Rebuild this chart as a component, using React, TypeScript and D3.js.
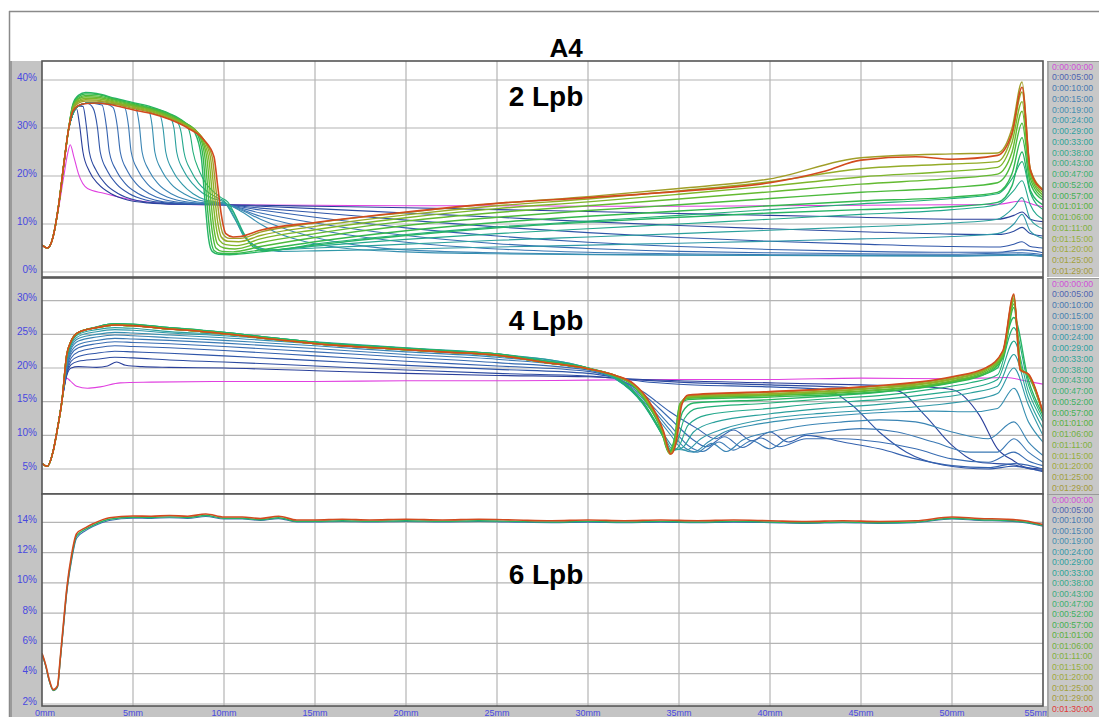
import React from "react";
import * as d3 from "d3";

type Pt = [number, number];

// ---------- legend / series meta ----------
const TIMES = ["0:00:00:00","0:00:05:00","0:00:10:00","0:00:15:00","0:00:19:00","0:00:24:00","0:00:29:00","0:00:33:00","0:00:38:00","0:00:43:00","0:00:47:00","0:00:52:00","0:00:57:00","0:01:01:00","0:01:06:00","0:01:11:00","0:01:15:00","0:01:20:00","0:01:25:00","0:01:29:00","0:01:30:00"];
const LINE_COLORS = ["#e040e0","#2a3f9a","#2c4aa0","#2f55a8","#3461ae","#386cb2","#3a78b4","#3a84b4","#368fb0","#3098a8","#2aa09c","#24a88c","#22ae78","#26b464","#34b84e","#4cba3c","#64ba30","#7eb62a","#94ac28","#a09e28","#d24a1e"];
const LEGEND_COLORS = ["#d050d8","#5064b0","#4878b0","#4882b0","#468eb0","#3898a8","#30a0a0","#30a496","#38a88a","#3eaa7e","#40b070","#40b062","#44b052","#58b040","#70b040","#80b03e","#96ae3c","#a0a83c","#a2a03c","#a49a3c","#e03838"];
const X_TICKS = [0,5,10,15,20,25,30,35,40,45,50,55];
const P1_Y_TICKS = [0,10,20,30,40];
const P2_Y_TICKS = [5,10,15,20,25,30];
const P3_Y_TICKS = [2,4,6,8,10,12,14];
const PANEL_LABELS = ["2 Lpb","4 Lpb","6 Lpb"];
const TITLE = "A4";

// ---------- panel 1 (2 Lpb) : [mm, %] ----------
const P1_RISE: Pt[] = [[0,5.6],[0.3,5.0],[0.6,7.2],[0.9,13.5],[1.2,22.5],[1.45,29.5]];
const P1_C0: Pt[] = [[0,5.6],[0.3,5.0],[0.6,7.2],[0.9,13],[1.2,20],[1.4,24.5],[1.55,26.5],[1.75,24],[2.0,20.5],[2.5,17.4],[3.4,16.4],[5,15],[7,14.2],[10,14],[15,13.9],[20,13.8],[25,13.8],[30,13.7],[35,13.7],[40,13.8],[45,13.9],[50,14],[52.5,14.1],[53.85,14.8],[54.5,14],[55,13.6]];
const P1_C1: Pt[] = [[1.7,33],[1.9,34],[2.05,31],[2.25,25],[2.6,21],[3.1,18.3],[3.8,16.3],[4.7,15],[5.8,14.4],[7.5,14.1],[10,14],[12,13.9],[15,13.7],[20,13.4],[25,13],[30,12.6],[35,12.2],[40,11.8],[45,11.4],[50,11],[52.5,11],[53.4,11.8],[53.85,12.5],[54.3,11],[55,10.5]];
const P1_C2: Pt[] = [[1.7,33],[2.0,34.6],[2.25,34.5],[2.45,30],[2.6,25],[3.0,21],[3.5,18.3],[4.2,16.3],[5.1,15],[6.2,14.4],[8,14.1],[10,14],[12,13.7],[15,13.2],[20,12.3],[25,11.4],[30,10.5],[35,9.7],[40,9],[45,8.4],[50,7.9],[52.5,7.8],[53.4,8.5],[53.85,9.3],[54.3,8],[55,7.5]];
const P1_C3: Pt[] = [[1.7,33],[2.0,34.6],[2.5,35.1],[2.8,34.2],[3.05,30],[3.2,25],[3.6,21],[4.1,18.3],[4.8,16.3],[5.7,15],[6.8,14.4],[8.5,14.1],[10,14],[12,13.3],[15,12.4],[20,10.8],[25,9.4],[30,8.2],[35,7.2],[40,6.4],[45,5.8],[50,5.3],[52.5,5.2],[53.4,5.8],[53.85,6.3],[54.3,5.3],[55,5]];
const P1_C4: Pt[] = [[1.7,33],[2.0,34.6],[2.5,35.2],[3.3,34.8],[3.55,30],[3.7,25],[4.1,21],[4.6,18.3],[5.3,16.3],[6.2,15],[7.3,14.4],[10,14],[12,12.9],[15,11.4],[20,9.2],[25,7.5],[30,6.2],[35,5.3],[40,4.7],[45,4.3],[50,4.1],[52.5,4.1],[53.85,4.6],[55,4]];
const P1_C5: Pt[] = [[1.7,33],[2.0,34.6],[2.5,35.2],[3.5,35.0],[3.9,34.3],[4.15,30],[4.3,25],[4.7,21],[5.2,18.3],[5.9,16.3],[6.8,15],[7.8,14.4],[10,14],[12,12.3],[15,10.2],[20,7.6],[25,5.9],[30,4.9],[35,4.3],[40,4],[45,3.8],[50,3.7],[53.85,4],[55,3.6]];
const P1_C6: Pt[] = [[1.7,33],[2.0,34.6],[2.5,35.2],[4,35.0],[4.5,34.6],[4.75,30.5],[4.9,25],[5.3,21],[5.8,18.3],[6.5,16.3],[7.4,15],[8.4,14.4],[10,14.1],[12,11.6],[15,8.9],[20,6.2],[25,4.8],[30,4.1],[35,3.8],[40,3.6],[50,3.5],[53.85,3.7],[55,3.4]];
const P1_C7: Pt[] = [[1.7,33],[2.0,34.6],[2.5,35.2],[4,35],[5.1,34.5],[5.35,30.5],[5.5,25],[5.9,21],[6.4,18.3],[7.1,16.3],[8,15],[9,14.4],[10,14.2],[11,12.8],[12,11],[13.5,8.8],[15,7.2],[17.5,5.5],[20,4.6],[25,4],[30,3.7],[40,3.5],[50,3.4],[53.85,3.6],[55,3.3]];
const P1_C8: Pt[] = [[1.7,33],[2.0,34.6],[2.5,35.2],[4,35],[5,34.7],[5.8,34.1],[6.05,30.5],[6.2,25],[6.6,21],[7.1,18.3],[7.8,16.3],[8.6,15],[9.4,14.5],[10,14.3],[11,12.5],[12,10],[13,8],[14.5,6.3],[16.5,5],[20,4.2],[25,3.8],[35,3.5],[50,3.3],[53.85,3.5],[55,3.2]];
const P1_C9: Pt[] = [[1.7,33],[2.0,34.6],[2.5,35.2],[4,35],[5,34.7],[6,34],[6.4,33.4],[6.65,30],[6.8,25],[7.2,21],[7.7,18.3],[8.3,16.3],[9,15],[9.6,14.6],[10,14.4],[10.6,11],[11.2,7],[12,5],[13,4.3],[15,4.4],[20,4.8],[25,5.2],[30,5.6],[35,6],[40,6.4],[45,6.9],[50,7.4],[52.5,8],[53.4,10],[53.85,12],[54.3,8.5],[55,7]];
const P1_C10: Pt[] = [[1.7,33],[2.0,34.6],[2.5,35.2],[4,35],[5,34.7],[6,34],[7,32.5],[7.25,30],[7.4,25],[7.8,21],[8.3,18.3],[8.8,16.5],[9.4,15.3],[10,14.6],[10.5,12],[11,8],[11.7,5.5],[12.5,4.6],[15,5],[20,5.8],[25,6.6],[30,7.3],[35,8],[40,8.7],[45,9.4],[50,10.2],[52.5,11],[53.4,13.5],[53.85,15.5],[54.3,11],[55,9]];
const P1_C11: Pt[] = [[1.7,33],[2.0,34.6],[2.5,35.2],[4,35],[5,34.7],[6,34],[7,32.4],[7.4,31.5],[7.65,29],[7.8,25],[8.2,21],[8.6,18.5],[9.1,16.7],[9.6,15.5],[10,14.8],[10.5,12.5],[11,8.5],[11.6,5.5],[12.3,4.5],[15,5.4],[20,6.8],[25,8],[30,9],[35,10],[40,11],[45,12],[50,13],[52.5,14],[53.4,17],[53.85,19],[54.3,14],[55,11]];
const P1_C12: Pt[] = [[1.7,33],[2.0,34.6],[2.5,35.2],[4,35],[5,34.7],[6,34],[7,32.3],[7.9,30.8],[8.15,28.5],[8.3,25],[8.65,21],[9.0,18.5],[9.4,16.8],[9.8,15.6],[10.2,14.6],[10.6,12],[11.1,8],[11.6,5.2],[12.3,4.4],[15,5.8],[20,7.8],[25,9.4],[30,10.6],[35,11.8],[40,13],[45,14.2],[50,15.3],[52.5,16.3],[53.4,20],[53.85,23],[54.3,16.5],[55,13]];
const P1_C13: Pt[] = [[1.7,35],[2.0,36.8],[2.4,37.4],[3,37.2],[4,36.2],[5,35.3],[6,34.4],[7,33],[7.8,31.3],[8.4,29],[8.75,24],[8.95,15],[9.15,7],[9.35,4.3],[9.7,3.7],[10.3,3.6],[12,4.2],[15,5.6],[20,7.6],[25,9.2],[30,10.4],[35,11.4],[40,12.3],[45,13],[50,13.6],[52.5,14.5],[53.3,18],[53.85,25],[54.3,17],[55,14]];
const P1_C14: Pt[] = [[1.7,34.8],[2.0,36.5],[2.4,37.1],[3,37],[4,36],[5,35.1],[6,34.2],[7,32.9],[7.8,31.2],[8.5,29],[8.85,24],[9.05,15],[9.25,7.5],[9.45,4.5],[9.8,3.9],[10.4,3.8],[12,4.6],[15,6.3],[20,8.6],[25,10.3],[30,11.6],[35,12.7],[40,13.8],[45,14.8],[50,15.6],[52.5,16.6],[53.3,20.5],[53.85,28],[54.3,18.5],[55,15]];
const P1_C15: Pt[] = [[1.7,34.6],[2,36.2],[2.4,36.8],[3,36.7],[4,35.8],[5,34.9],[6,34],[7,32.7],[7.9,31],[8.6,28.7],[8.95,24],[9.15,15.5],[9.35,8.5],[9.55,5],[9.9,4.3],[10.5,4.2],[12,5.3],[15,7.2],[20,9.7],[25,11.4],[30,12.8],[35,14],[40,15.3],[45,16.6],[50,17.6],[52.5,18.6],[53.3,23],[53.85,31],[54.3,19.5],[55,15.5]];
const P1_C16: Pt[] = [[1.7,34.4],[2,36],[2.4,36.5],[3,36.4],[4,35.6],[5,34.7],[6,33.8],[7,32.5],[7.9,30.8],[8.65,28.5],[9.05,24],[9.25,16],[9.45,9],[9.65,5.8],[10,5],[10.6,4.8],[12,6.1],[15,8],[20,10.6],[25,12.4],[30,13.8],[35,15.2],[40,16.7],[45,18.3],[50,19.5],[52.5,20.4],[53.3,25],[53.85,33.5],[54.3,20.3],[55,16]];
const P1_C17: Pt[] = [[1.7,34.2],[2,35.7],[2.4,36.2],[3,36.1],[4,35.4],[5,34.5],[6,33.6],[7,32.3],[7.95,30.6],[8.7,28.3],[9.15,24],[9.35,16.5],[9.55,9.8],[9.75,6.6],[10.1,5.7],[10.7,5.5],[12,6.9],[15,8.8],[20,11.3],[25,13.2],[30,14.6],[35,16.2],[40,17.9],[45,19.8],[50,21],[52.5,21.8],[53.3,27],[53.85,35.5],[54.3,20.8],[55,16.5]];
const P1_C18: Pt[] = [[1.7,34],[2,35.5],[2.4,35.9],[3,35.8],[4,35.2],[5,34.3],[6,33.4],[7,32.1],[8,30.4],[8.8,28],[9.25,24],[9.45,17],[9.65,10.5],[9.85,7.3],[10.2,6.4],[10.8,6.3],[12,7.6],[15,9.5],[20,11.9],[25,13.8],[30,15.2],[35,16.9],[40,18.8],[45,21.5],[50,22.5],[52.5,23],[53.3,28.5],[53.85,37.5],[54.3,21.2],[55,17]];
const P1_C19: Pt[] = [[1.7,33.8],[2,35.2],[2.4,35.6],[3,35.6],[4,35],[5,34.1],[6,33.2],[7,31.9],[8,30.2],[8.85,27.8],[9.35,24],[9.55,17.5],[9.75,11.2],[9.95,7.9],[10.3,7],[10.9,7],[12,8.3],[15,10.2],[20,12.4],[25,14.3],[30,15.7],[35,17.4],[40,19.4],[45,23.8],[50,24.6],[52.5,24.8],[53.3,30],[53.85,39.6],[54.3,21.5],[55,17.2]];
const P1_C20: Pt[] = [[1.7,33.5],[2,34.7],[2.4,35.1],[3,35.2],[4,34.7],[5,33.8],[6,33],[7,31.8],[8,30],[8.9,27.5],[9.45,24],[9.65,18],[9.85,12],[10.1,8],[10.5,7.3],[10.9,7.4],[12,8.7],[15,10.3],[20,12.5],[25,14.3],[30,15.5],[35,16.8],[40,18.6],[43,21],[45,23.3],[48,24],[50,23.5],[52.5,24.3],[53.3,29],[53.85,38.5],[54.3,21.3],[55,17]];

// ---------- panel 2 (4 Lpb) ----------
const P2_RISE: Pt[] = [[0,5.8],[0.3,5.4],[0.6,7.5],[0.85,11],[1.1,15.2]];
const P2_C0: Pt[] = [[1.35,18.5],[1.55,18.1],[1.9,17.3],[2.5,17.0],[3.2,17.2],[4.3,17.8],[6,17.9],[10,18.0],[15,18.0],[20,18.1],[25,18.1],[30,18.2],[35,18.3],[40,18.3],[45,18.5],[50,18.4],[53,18.6],[54,18.1],[55,17.6]];
const P2_C1: Pt[] = [[1.35,18.8],[1.6,20],[2,20.2],[3,20.1],[3.6,20.3],[4.1,20.9],[4.6,20.4],[5.5,20.2],[7,20.1],[10,20],[15,19.6],[20,19.2],[25,18.9],[30,18.7],[33,18.3],[35,18.1],[40,17.8],[45,17.5],[48,17.3],[50,16.8],[51.5,13],[52.5,8],[53.4,6.2],[54,5.3],[55,5.0]];
const P2_C2: Pt[] = [[1.35,19],[1.6,20.5],[2,21],[3,21.3],[4,21.6],[5,21.5],[7,21.2],[10,20.9],[15,20.3],[20,19.7],[25,19.2],[30,18.8],[33,18.2],[35,17.9],[40,17.5],[45,17.0],[47,16.6],[48.5,13],[50,8.5],[51.5,6],[53.4,5.6],[54.3,5],[55,4.8]];
const P2_C3: Pt[] = [[1.35,19.2],[1.6,21],[2,21.7],[3,22.2],[4,22.5],[5,22.4],[7,22.2],[10,21.8],[15,21.1],[20,20.4],[25,19.8],[30,19.2],[33,18],[35,17.6],[40,17.2],[43,16.8],[44.5,14.5],[46,10.5],[47.5,7.5],[49.5,5.6],[52,5],[53.4,5.4],[55,4.6]];
const P2_C4: Pt[] = [[1.35,19.5],[1.6,21.5],[2,22.4],[3,23],[4,23.3],[5,23.2],[7,23],[10,22.6],[15,21.8],[20,21],[25,20.3],[30,19.5],[31.5,18.5],[33,16.5],[34.5,13.5],[36,11],[37,9.5],[38,10.8],[39,9.2],[40,10.5],[41,9],[42,10],[44,9],[46,8],[48,6.5],[50,5.5],[52,5.2],[53.4,5.8],[55,5]];
const P2_C5: Pt[] = [[1.35,19.7],[1.6,22],[2,23],[3,23.6],[4,23.9],[5,23.8],[7,23.6],[10,23.2],[15,22.4],[20,21.6],[25,20.8],[30,19.7],[31.5,18.6],[33,16.2],[34.5,12.5],[35.7,9.5],[36.5,8.3],[37.5,9.8],[38.5,8.2],[39.5,9.6],[40.5,8.3],[42,9.5],[44,9.5],[46,9],[48,8],[50,6.5],[52,6],[53.4,7.5],[54.2,6.2],[55,5.5]];
const P2_C6: Pt[] = [[1.35,20],[1.6,22.4],[2,23.5],[3,24.1],[4,24.4],[5,24.3],[7,24.1],[10,23.7],[15,22.9],[20,22],[25,21.3],[30,19.8],[31.5,18.6],[33,15.8],[34.5,11.5],[35.5,8.5],[36.3,7.6],[37.2,9],[38,7.8],[39,9.2],[40,8],[41,9.6],[43,10.5],[45,11],[47,10.5],[49,9],[51,7.5],[52.5,7.5],[53.4,9.5],[54.2,7.5],[55,6]];
const P2_C7: Pt[] = [[1.35,20.3],[1.6,22.8],[2,24],[3,24.6],[4,24.9],[5,24.8],[7,24.5],[10,24.1],[15,23.3],[20,22.4],[25,21.6],[30,19.9],[31.5,18.5],[33,15.5],[34.5,10.8],[35.3,8.2],[36,7.5],[36.8,8.8],[37.6,7.6],[38.5,9.3],[40,10.5],[42,11.5],[44,12],[46,12.3],[48,12],[50,10.5],[52,9.5],[53.4,12],[54.2,9],[55,7]];
const P2_C8: Pt[] = [[1.35,20.6],[1.6,23.1],[2,24.4],[3,25],[4,25.3],[5,25.2],[7,24.9],[10,24.5],[15,23.6],[20,22.7],[25,21.8],[30,19.9],[31.5,18.4],[33,15.2],[34.5,10.2],[35.2,7.9],[35.8,7.5],[36.6,9],[37.5,10.5],[39,11.5],[41,12.3],[43,12.8],[45,13.2],[47,13.5],[49,13.6],[51,13.5],[52.5,14],[53.4,17],[54.2,12],[55,9]];
const P2_C9: Pt[] = [[1.35,20.9],[1.6,23.4],[2,24.7],[3,25.4],[4,25.7],[5,25.6],[7,25.2],[10,24.8],[15,23.8],[20,22.9],[25,22],[30,20],[31.5,18.4],[33,15],[34.2,10],[34.8,8],[35.4,7.8],[36.2,9.5],[37.5,11],[40,12.5],[43,13.3],[46,13.8],[49,14.5],[51,15.2],[52.5,16.2],[53.4,20],[54.2,14.5],[55,10]];
const P2_C10: Pt[] = [[1.35,21.2],[1.6,23.6],[2,25],[3,25.7],[4,26],[5,25.9],[7,25.4],[10,25],[15,23.9],[20,23],[25,22.1],[30,20],[31.5,18.4],[33,14.8],[34.2,9.7],[34.7,7.8],[35.2,8.2],[35.8,10.5],[37,12],[40,13.2],[43,14],[46,14.6],[49,15.5],[51,16.3],[52.5,17.3],[53.4,22],[54.2,15.5],[55,11]];
const P2_LATE_LEFT_A: Pt[] = [[1.35,21.5],[1.6,23.8],[2,25.2],[3,26.1],[4,26.6],[5,26.5],[7,26],[8,25.8],[10,25.3],[13,24.4],[16,23.6],[19,23.1],[22,22.6],[25,22.1],[27.5,21.1],[30,20]];
const P2_LATE_LEFT_B: Pt[] = [[1.35,21.8],[1.6,24],[2,25.3],[3,26],[4,26.4],[5,26.3],[7,25.8],[8,25.6],[10,25.1],[13,24.2],[16,23.4],[19,22.9],[22,22.4],[25,21.9],[27.5,20.9],[30,19.9]];
const P2_C11: Pt[] = [[31.5,18.5],[33,14.7],[34.2,9.5],[34.6,7.7],[35,8.4],[35.5,11.5],[36.5,13],[40,14],[43,14.8],[46,15.3],[49,16.2],[51,17],[52.5,18.3],[53.4,24],[54.2,16.5],[55,12]];
const P2_C12: Pt[] = [[31.5,18.6],[33,14.8],[34.2,9.4],[34.55,7.6],[34.9,9],[35.3,12.5],[36,14],[40,14.8],[43,15.4],[46,15.9],[49,16.9],[51,17.8],[52.5,19],[53.4,26],[54.2,17.5],[55,12.5]];
const P2_C13: Pt[] = [[31.5,18.7],[33,15],[34.2,9.4],[34.5,7.6],[34.85,10],[35.2,13.5],[35.8,14.8],[40,15.3],[43,15.8],[46,16.4],[49,17.4],[51,18.5],[52.5,20],[53.4,27.5],[54.2,18.2],[55,13]];
const P2_C14: Pt[] = [[31.5,18.8],[32.5,17.3],[33.3,14.5],[34,11],[34.45,7.5],[34.75,9.5],[35.05,14.5],[35.5,15.3],[40,15.7],[45,16.3],[50,17.8],[51.9,19.2],[52.8,21.5],[53.4,29],[53.8,20],[54.2,18.8],[55,13.2]];
const P2_C15: Pt[] = [[31.5,18.8],[32.5,17.4],[33.3,14.6],[34,11],[34.45,7.4],[34.75,9.3],[35.05,14.7],[35.5,15.5],[40,15.9],[45,16.5],[50,18],[51.9,19.4],[52.8,21.8],[53.4,29.5],[53.8,19.9],[54.2,18.9],[55,13.3]];
const P2_C16: Pt[] = [[31.5,18.8],[32.5,17.5],[33.3,14.8],[34.05,11],[34.5,7.4],[34.8,9.2],[35.1,14.8],[35.5,15.6],[40,16],[45,16.6],[50,18.1],[51.9,19.6],[52.8,22],[53.4,30],[53.8,19.8],[54.2,19],[55,13.3]];
const P2_C17: Pt[] = [[31.5,18.9],[32.5,17.5],[33.3,14.9],[34.1,10.8],[34.5,7.3],[34.8,9],[35.1,14.8],[35.5,15.7],[40,16.1],[45,16.8],[50,18.3],[51.9,19.8],[52.8,22.2],[53.4,30.3],[53.8,19.8],[54.2,19],[55,13.3]];
const P2_C18: Pt[] = [[31.5,18.9],[32.5,17.6],[33.3,15],[34.1,10.7],[34.5,7.3],[34.8,9],[35.1,14.6],[35.5,15.8],[40,16.2],[45,16.9],[50,18.4],[51.9,19.9],[52.8,22.4],[53.4,30.6],[53.75,19.7],[54.2,19],[55,13.3]];
const P2_C19: Pt[] = [[31.5,18.9],[32.5,17.6],[33.3,15.1],[34.1,10.6],[34.5,7.2],[34.8,9],[35.1,14.5],[35.5,15.9],[40,16.4],[45,17.1],[50,18.6],[51.9,20],[52.8,22.5],[53.4,30.8],[53.75,19.7],[54.2,19],[55,13.3]];
const P2_C20: Pt[] = [[31.5,18.9],[32.5,17.7],[33.3,15.3],[34.15,10.6],[34.55,7.2],[34.85,9],[35.15,14.5],[35.5,16],[40,16.5],[45,17.2],[50,18.7],[51.9,20.1],[52.8,22.6],[53.4,31],[53.75,19.7],[54.2,19.1],[55,13.4]];

// ---------- panel 3 (6 Lpb) ----------
const P3_X = [0,0.2,0.4,0.62,0.85,1.0,1.2,1.36,1.63,1.9,2.4,2.8,3.7,5,6,7,8,9,10,11,12,13,14,15,16.5,18,20,22,24,26,28,30,32,34,36,38,40,42,44,46,48,50,51.5,53,54,55];
const P3_EARLY = [5.28,4.5,3.5,2.88,3.1,4.8,7.3,9.3,11.5,12.95,13.45,13.72,14.12,14.27,14.26,14.3,14.26,14.38,14.22,14.22,14.12,14.24,14.02,14.02,14.05,14.02,14.05,14.02,14.05,14.01,13.98,14.01,13.98,14.01,13.98,14.01,13.98,13.93,13.98,13.93,13.98,14.22,14.12,14.08,13.98,13.74];
const P3_MID = [5.3,4.55,3.55,2.9,3.15,4.9,7.5,9.5,11.7,13.1,13.55,13.8,14.2,14.33,14.32,14.36,14.32,14.45,14.27,14.27,14.17,14.3,14.07,14.07,14.1,14.07,14.1,14.07,14.1,14.06,14.02,14.06,14.02,14.06,14.02,14.06,14.02,13.97,14.02,13.97,14.02,14.27,14.17,14.12,14.02,13.78];
const P3_FINAL = [5.35,4.6,3.6,2.95,3.2,5.0,7.6,9.6,11.9,13.25,13.65,13.9,14.3,14.42,14.4,14.45,14.4,14.55,14.35,14.35,14.25,14.4,14.15,14.15,14.2,14.15,14.2,14.15,14.2,14.15,14.1,14.15,14.1,14.15,14.1,14.15,14.1,14.05,14.1,14.05,14.1,14.35,14.25,14.2,14.1,13.85];

// ---------- assemble series ----------
const P1_SERIES: Pt[][] = [
  P1_C0,
  ...[P1_C1,P1_C2,P1_C3,P1_C4,P1_C5,P1_C6,P1_C7,P1_C8,P1_C9,P1_C10,P1_C11,P1_C12,P1_C13,P1_C14,P1_C15,P1_C16,P1_C17,P1_C18,P1_C19,P1_C20].map(c => [...P1_RISE, ...c] as Pt[]),
];
const P2_SERIES: Pt[][] = [
  ...[P2_C0,P2_C1,P2_C2,P2_C3,P2_C4,P2_C5,P2_C6,P2_C7,P2_C8,P2_C9,P2_C10].map(c => [...P2_RISE, ...c] as Pt[]),
  ...[P2_C11,P2_C12,P2_C13].map(c => [...P2_RISE, ...P2_LATE_LEFT_A, ...c] as Pt[]),
  ...[P2_C14,P2_C15,P2_C16,P2_C17,P2_C18,P2_C19,P2_C20].map(c => [...P2_RISE, ...P2_LATE_LEFT_B, ...c] as Pt[]),
];
const P3_SERIES: { idx: number; pts: Pt[] }[] = [
  { idx: 5, pts: P3_X.map((x, k) => [x, P3_EARLY[k]] as Pt) },
  { idx: 13, pts: P3_X.map((x, k) => [x, P3_MID[k]] as Pt) },
  { idx: 20, pts: P3_X.map((x, k) => [x, P3_FINAL[k]] as Pt) },
];

// ---------- layout ----------
const W = 1099, H = 717;
const PX0 = 42, PX1 = 1043;
const LEG_X = 1047;
const FONT = "'Liberation Sans', Arial, sans-serif";
const PANELS = [
  { top: 61, bottom: 277, dom: [0, 40], rng: [272, 80], ticks: P1_Y_TICKS, labelY: 106, legStep: 10.75 },
  { top: 278, bottom: 494, dom: [5, 30], rng: [469, 300.7], ticks: P2_Y_TICKS, labelY: 330, legStep: 10.75 },
  { top: 494, bottom: 706, dom: [2, 14], rng: [704, 522.3], ticks: P3_Y_TICKS, labelY: 584, legStep: 10.45 },
];

export default function App() {
  const x = d3.scaleLinear().domain([0, 55]).range([PX0, PX1]);
  const ys = PANELS.map(p => d3.scaleLinear().domain(p.dom).range(p.rng));
  const lineFor = (y: d3.ScaleLinear<number, number>) =>
    d3.line<Pt>().x(d => x(d[0])).y(d => y(d[1])).curve(d3.curveMonotoneX);

  const seriesByPanel: { idx: number; pts: Pt[] }[][] = [
    P1_SERIES.map((pts, idx) => ({ idx, pts })),
    P2_SERIES.map((pts, idx) => ({ idx, pts })),
    P3_SERIES,
  ];

  return (
    <svg width={W} height={H} style={{ position: "absolute", left: 0, top: 0, background: "#fff" }} fontFamily={FONT}>
      <defs>
        {PANELS.map((p, i) => (
          <clipPath id={`clip${i}`} key={i}>
            <rect x={PX0} y={p.top} width={PX1 - PX0} height={p.bottom - p.top} />
          </clipPath>
        ))}
      </defs>
      <rect x={0} y={0} width={W} height={H} fill="#fff" />
      {/* outer frame */}
      <line x1={9} y1={11.5} x2={W} y2={11.5} stroke="#8a8a8a" strokeWidth={1.5} />
      <line x1={9.5} y1={11} x2={9.5} y2={H} stroke="#8a8a8a" strokeWidth={1.5} />
      {/* left gray strip & bottom strip */}
      <rect x={10} y={61} width={PX0 - 10} height={H - 61} fill="#c4c4c4" />
      <rect x={10} y={706} width={LEG_X - 10} height={H - 706} fill="#c4c4c4" />
      <line x1={11} y1={61} x2={11} y2={H} stroke="#9a9a9a" strokeWidth={2} />
      <text x={566} y={57} textAnchor="middle" fontSize={26} fontWeight="bold" fill="#000">{TITLE}</text>

      {PANELS.map((p, i) => {
        const y = ys[i];
        const line = lineFor(y);
        return (
          <g key={i}>
            <rect x={PX0} y={p.top} width={PX1 - PX0} height={p.bottom - p.top} fill="#fff" />
            {p.ticks.map(t => (
              <line key={"h" + t} x1={PX0} x2={PX1} y1={y(t)} y2={y(t)} stroke="#b4b4b4" strokeWidth={1.2} />
            ))}
            {X_TICKS.slice(1, -1).map(t => (
              <line key={"v" + t} x1={x(t)} x2={x(t)} y1={p.top} y2={p.bottom} stroke="#b4b4b4" strokeWidth={1.2} />
            ))}
            <g clipPath={`url(#clip${i})`}>
              {seriesByPanel[i].map(s => (
                <path key={s.idx} d={line(s.pts) || ""} fill="none" stroke={LINE_COLORS[s.idx]}
                  strokeWidth={s.idx === 20 ? 1.6 : s.idx >= 13 ? 1.4 : 1.1} strokeLinejoin="round" />
              ))}
            </g>
            <rect x={PX0} y={p.top} width={PX1 - PX0} height={p.bottom - p.top} fill="none" stroke="#555" strokeWidth={1.6} />
            {p.ticks.map(t => (
              <text key={"yl" + t} x={37} y={y(t) + 0.5} textAnchor="end" fontSize={10} fill="#4848e0">{t}%</text>
            ))}
            <text x={546} y={p.labelY} textAnchor="middle" fontSize={28} fontWeight="bold" fill="#000">{PANEL_LABELS[i]}</text>
          </g>
        );
      })}

      {X_TICKS.map(t => (
        <text key={"xl" + t} x={t === 55 ? x(t) - 6 : t === 0 ? x(t) + 3 : x(t)} y={715.5} textAnchor="middle" fontSize={9} fill="#4848e0">{t}mm</text>
      ))}

      {/* legend strips */}
      {PANELS.map((p, i) => {
        const bottom = i === 2 ? H : p.bottom;
        const items = TIMES.map((t, k) => ({ t, k, yy: p.top + 8.5 + k * p.legStep })).filter(d => d.yy <= bottom - 1);
        return (
          <g key={"leg" + i}>
            <rect x={LEG_X} y={p.top} width={W - LEG_X} height={bottom - p.top} fill="#c8c8c8" />
            <line x1={LEG_X + 1} x2={LEG_X + 1} y1={p.top} y2={bottom} stroke="#a8a8a8" strokeWidth={2} />
            <line x1={LEG_X} x2={W} y1={p.top + 0.5} y2={p.top + 0.5} stroke="#9a9a9a" strokeWidth={1} />
            {items.map(d => (
              <text key={d.t} x={1052} y={d.yy} fontSize={8.7} fill={LEGEND_COLORS[d.k]}>{d.t}</text>
            ))}
          </g>
        );
      })}
    </svg>
  );
}
